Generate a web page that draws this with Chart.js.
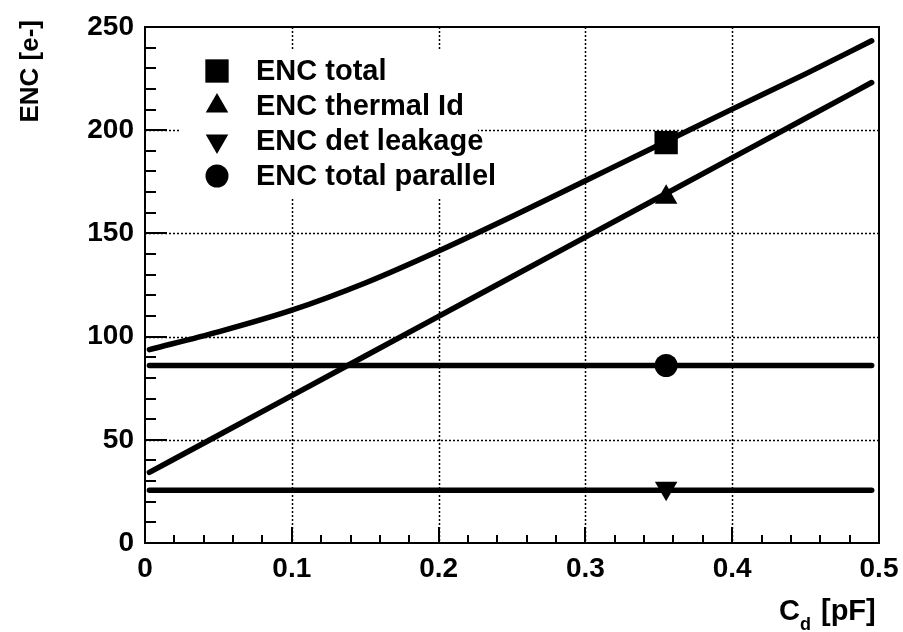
<!DOCTYPE html>
<html>
<head>
<meta charset="utf-8">
<script src="https://cdn.jsdelivr.net/npm/chart.js@4/dist/chart.umd.min.js"></script>
<style>
  html, body { margin: 0; padding: 0; background: #fff; }
  #wrap { width: 903px; height: 632px; }
</style>
</head>
<body>
<div id="wrap"><canvas id="myChart" width="903" height="632"></canvas></div>
<script>
// detector capacitance (pF) where the curves were sampled
const cdValues = [0.003, 0.05, 0.1, 0.15, 0.2, 0.25, 0.3, 0.35, 0.4, 0.45, 0.495];
// ENC curves (electrons)
const encTotal   = [93.7, 102.3, 112.8, 126.0, 141.5, 158.2, 175.5, 192.8, 210.2, 227.3, 243.3];
const encThermal = [34.2, 52.2, 71.4, 90.6, 109.8, 129.0, 148.2, 167.4, 186.6, 205.8, 223.1];
// flat contributions
const flatRange   = [0.003, 0.495];
const encParallel = [86, 86];
const encLeakage  = [25.5, 25.5];
// marker points at the working capacitance
const markerCd = 0.355;
const markerLabels = ["ENC total", "ENC thermal Id", "ENC det leakage", "ENC total parallel"];
const markerValues = [194, 167.5, 26.5, 86];
// axis ticks
const xTicks = [0, 0.1, 0.2, 0.3, 0.4, 0.5];
const yTicks = [0, 50, 100, 150, 200, 250];

const FONT = "'Liberation Sans', Arial, Helvetica, sans-serif";
const markerStyles = [
  { pointStyle: 'rect', radius: 16.5, rotation: 0 },
  { pointStyle: 'triangle', radius: 13, rotation: 0 },
  { pointStyle: 'triangle', radius: 13, rotation: 180 },
  { pointStyle: 'circle', radius: 11.5, rotation: 0 }
];

function pts(xs, ys) {
  return xs.map((x, i) => ({ x: x, y: ys[i] }));
}

const lineSet = (data) => ({
  data: data,
  showLine: true,
  borderColor: '#000',
  borderWidth: 5.5,
  borderCapStyle: 'round',
  pointRadius: 0,
  cubicInterpolationMode: 'monotone',
  fill: false
});

const datasets = [
  lineSet(pts(cdValues, encTotal)),
  lineSet(pts(cdValues, encThermal)),
  lineSet(pts(flatRange, encParallel)),
  lineSet(pts(flatRange, encLeakage))
];
markerLabels.forEach((lab, i) => {
  datasets.push({
    label: lab,
    data: [{ x: markerCd, y: markerValues[i] }],
    showLine: false,
    pointStyle: markerStyles[i].pointStyle,
    pointRadius: markerStyles[i].radius,
    rotation: markerStyles[i].rotation,
    backgroundColor: '#000',
    borderColor: '#000',
    borderWidth: 0,
    clip: false
  });
});

// frame, dotted grid and inward ticks, ROOT style
const framePlugin = {
  id: 'frame',
  beforeDatasetsDraw(chart) {
    const { ctx, chartArea: a, scales: { x, y } } = chart;
    ctx.save();
    ctx.strokeStyle = '#000';
    // dotted grid
    ctx.lineWidth = 1.5;
    ctx.setLineDash([2, 2]);
    xTicks.slice(1, -1).forEach(v => {
      const px = Math.round(x.getPixelForValue(v)) + 0.5;
      ctx.beginPath(); ctx.moveTo(px, a.top); ctx.lineTo(px, a.bottom); ctx.stroke();
    });
    yTicks.slice(1, -1).forEach(v => {
      const py = Math.round(y.getPixelForValue(v)) + 0.5;
      ctx.beginPath(); ctx.moveTo(a.left, py); ctx.lineTo(a.right, py); ctx.stroke();
    });
    ctx.setLineDash([]);
    // ticks
    ctx.lineWidth = 2;
    for (let i = 0; i <= 25; i++) {
      const v = i * 0.02;
      const px = Math.round(x.getPixelForValue(v));
      const len = (i % 5 === 0) ? 16 : 8;
      ctx.beginPath(); ctx.moveTo(px, a.bottom); ctx.lineTo(px, a.bottom - len); ctx.stroke();
    }
    for (let i = 0; i <= 25; i++) {
      const py = Math.round(y.getPixelForValue(i * 10));
      const len = (i % 5 === 0) ? 22 : 11;
      ctx.beginPath(); ctx.moveTo(a.left, py); ctx.lineTo(a.left + len, py); ctx.stroke();
    }
    ctx.strokeRect(a.left, a.top, a.right - a.left, a.bottom - a.top);
    ctx.restore();
  },
  afterDraw(chart) {
    const { ctx } = chart;
    ctx.save();
    ctx.fillStyle = '#000';
    // y title
    ctx.font = 'bold 26px ' + FONT;
    ctx.translate(31, 20);
    ctx.rotate(-Math.PI / 2);
    ctx.textAlign = 'right';
    ctx.textBaseline = 'middle';
    ctx.fillText('ENC [e-]', 0, 0);
    ctx.restore();
    // x title with subscript
    ctx.save();
    ctx.fillStyle = '#000';
    ctx.textBaseline = 'alphabetic';
    ctx.textAlign = 'left';
    ctx.font = 'bold 29px ' + FONT;
    ctx.fillText('C', 779, 620);
    ctx.font = 'bold 18px ' + FONT;
    ctx.fillText('d', 800, 630);
    ctx.font = 'bold 29px ' + FONT;
    ctx.fillText('[pF]', 821, 620);
    ctx.restore();
  }
};

// legend drawn inside the frame
const legendPlugin = {
  id: 'boxLegend',
  afterDatasetsDraw(chart) {
    const { ctx } = chart;
    ctx.save();
    ctx.fillStyle = '#fff';
    ctx.fillRect(181, 50, 297, 147);
    const rows = [71, 106, 141, 176];
    markerLabels.forEach((lab, i) => {
      ctx.fillStyle = '#000';
      ctx.strokeStyle = '#000';
      Chart.helpers.drawPoint(ctx, {
        pointStyle: markerStyles[i].pointStyle,
        radius: markerStyles[i].radius,
        rotation: markerStyles[i].rotation,
        borderWidth: 0
      }, 217, rows[i]);
      ctx.font = 'bold 29px ' + FONT;
      ctx.textBaseline = 'middle';
      ctx.textAlign = 'left';
      ctx.fillText(lab, 256, rows[i] + 1);
    });
    ctx.restore();
  }
};

new Chart(document.getElementById('myChart'), {
  type: 'scatter',
  data: { datasets: datasets },
  options: {
    responsive: false,
    animation: false,
    events: [],
    layout: { padding: { left: 1, top: 27, right: 24, bottom: 0 } },
    plugins: { legend: { display: false }, tooltip: { enabled: false } },
    scales: {
      x: {
        type: 'linear', min: 0, max: 0.5,
        afterFit: s => { s.height = 89; s.paddingLeft = 0; s.paddingRight = 0; },
        afterBuildTicks: s => { s.ticks = xTicks.map(v => ({ value: v })); },
        grid: { display: false, drawTicks: false },
        border: { display: false },
        ticks: {
          color: '#000', padding: 9,
          font: { family: FONT, size: 28, weight: 'bold' },
          callback: v => String(v)
        }
      },
      y: {
        type: 'linear', min: 0, max: 250,
        afterFit: s => { s.width = 144; s.paddingTop = 0; s.paddingBottom = 0; },
        afterBuildTicks: s => { s.ticks = yTicks.map(v => ({ value: v })); },
        grid: { display: false, drawTicks: false },
        border: { display: false },
        ticks: {
          color: '#000', padding: 11,
          font: { family: FONT, size: 28, weight: 'bold' }
        }
      }
    }
  },
  plugins: [framePlugin, legendPlugin]
});
</script>
</body>
</html>
